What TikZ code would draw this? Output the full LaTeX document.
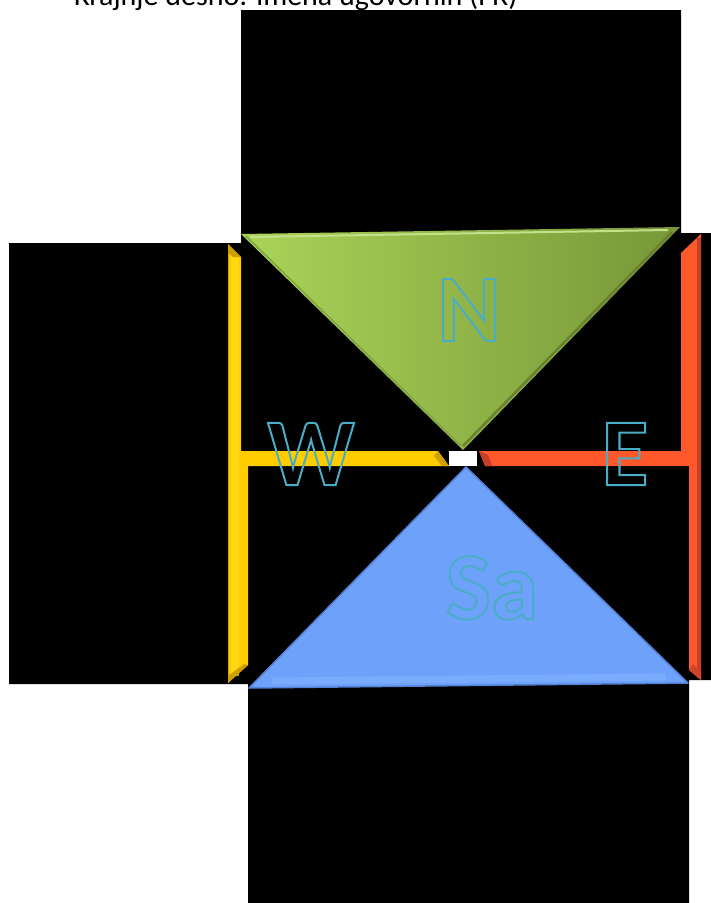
\documentclass[tikz,border=0pt]{standalone}
\usepackage{fontspec}
\setmainfont{Carlito}
\usepackage{xcolor}
\usetikzlibrary{positioning}
\definecolor{softgold}{RGB}{255,204,0}
\definecolor{goldedge}{RGB}{205,160,0}
\definecolor{goldlight}{RGB}{255,222,30}
\definecolor{softorange}{RGB}{255,88,42}
\definecolor{orangeedge}{RGB}{196,62,40}
\definecolor{greenlight}{RGB}{170,212,88}
\definecolor{greendark}{RGB}{120,150,56}
\definecolor{greenedge}{RGB}{104,130,48}
\definecolor{softblue}{RGB}{110,162,250}
\definecolor{blueedge}{RGB}{84,128,212}
\definecolor{bluelight}{RGB}{130,180,255}
\definecolor{lettercyan}{RGB}{75,172,198}
\newcommand{\hollow}[1]{\special{pdf:literal direct 1 Tr 2 w}#1\special{pdf:literal direct 0 Tr}}

\begin{document}
\begin{tikzpicture}[x=1pt, y=-1pt,
    letter/.style={anchor=base, inner sep=0pt, text=lettercyan, font=\fontsize{96}{96}\selectfont\bfseries},
    bevel/.style={line join=round}]
  \clip (0,0) rectangle (711,903);
  \fill[white] (0,0) rectangle (711,903);
  \node[anchor=base west, inner sep=0pt, font=\fontsize{30}{36}\selectfont] (caption) at (74,5) {Krajnje desno: imena ugovornih (FR)};
  \fill[black] (241,10) -- (681,10) -- (681,233) -- (711,233) -- (711,680) -- (689,680) -- (689,903)
    -- (248,903) -- (248,684) -- (9,684) -- (9,243) -- (241,243) -- cycle;

  \fill[softgold] (228,244) -- (241,257) -- (241,451) -- (438,451) -- (449,466) -- (248,466)
    -- (248,665) -- (228,683) -- cycle;
  \fill[goldlight, opacity=.7] (231,256) rectangle (239,676);
  \fill[goldedge] (228,244) -- (241,257) -- (233,257) -- (228,252) -- cycle;
  \fill[goldedge] (438,451) -- (449,466) -- (442,466) -- (434,456) -- cycle;
  \fill[goldedge] (228,683) -- (248,665) -- (244,664) -- (228,676) -- cycle;
  \draw[goldedge, line width=1.2pt] (228.6,248) -- (228.6,680);

  \fill[softorange] (681,253) -- (701,234) -- (701,680) -- (689,670) -- (689,466) -- (485,466)
    -- (479,451) -- (681,451) -- cycle;
  \fill[orangeedge] (697,238) rectangle (701,678);
  \fill[orangeedge] (479,451) -- (485,466) -- (492,466) -- (488,455) -- cycle;
  \fill[orangeedge!80!softorange] (689,670) -- (701,680) -- (701,672) -- (693,664) -- cycle;

  \shade[left color=greenlight, right color=greendark] (241,234) -- (680,227) -- (463,450) -- cycle;
  \draw[bevel, greenlight!70!white, line width=2pt] (250,237) -- (668,230);
  \draw[bevel, greenedge, line width=2.5pt] (672,232) -- (463,446);
  \draw[bevel, greenedge!60!greenlight, line width=1.5pt] (246,236) -- (461,446);

  \fill[softblue] (466,467) -- (249,688) -- (688,683) -- cycle;
  \draw[bevel, bluelight, opacity=.6, line width=7pt] (272,681) -- (666,677);
  \draw[bevel, blueedge, line width=1.5pt] (688,683) -- (466,467) -- (249,688) -- cycle;

  \fill[white] (449,451) rectangle (477,466);

  \node[letter] (north) at (469,341) {\hollow{N}};
  \node[letter] (west) at (311,485) {\hollow{W}};
  \node[letter] (east) at (625,485) {\hollow{E}};
  \node[letter] (south) at (492,619) {\hollow{Sa}};
\end{tikzpicture}
\end{document}
